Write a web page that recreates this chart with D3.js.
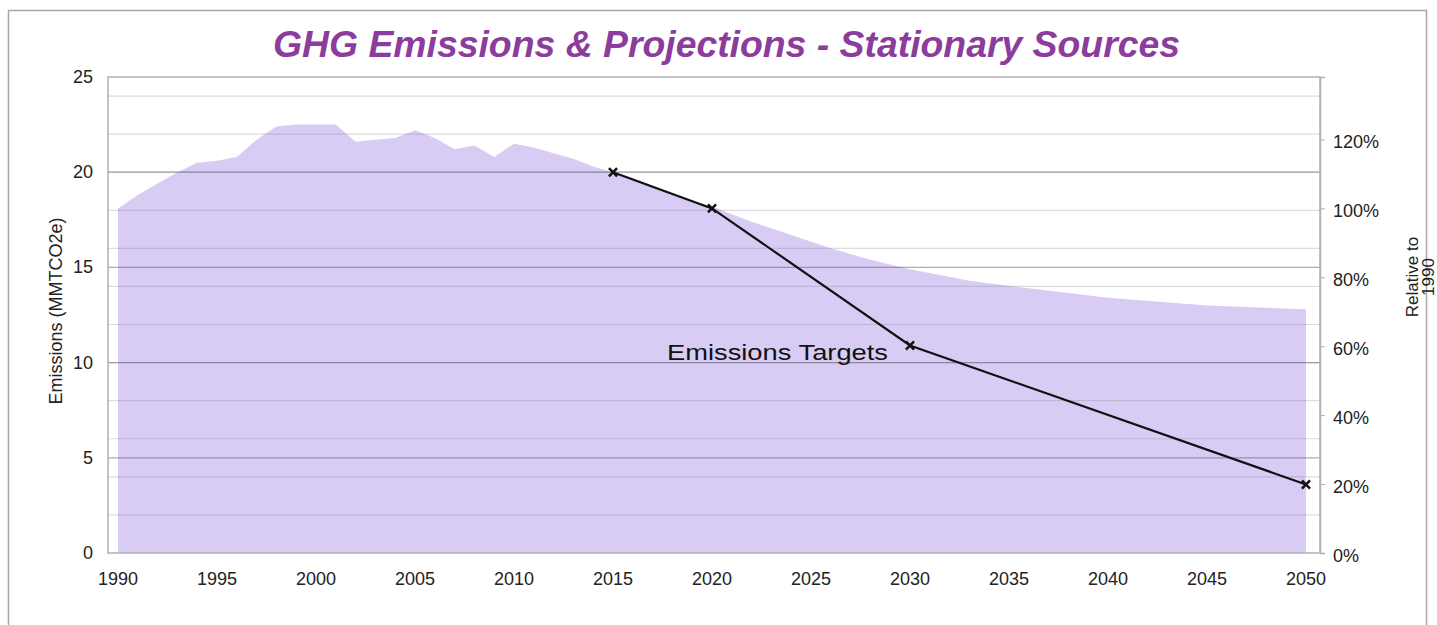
<!DOCTYPE html>
<html>
<head>
<meta charset="utf-8">
<script src="https://cdn.jsdelivr.net/npm/d3@7"></script>
<style>
  body { margin: 0; background: #fff; }
  text { font-family: "Liberation Sans", Arial, sans-serif; }
</style>
</head>
<body>
<div id="chart"></div>
<script>
// emissions, history + projection (MMTCO2e)
const years = [1990, 1991, 1992, 1993, 1994, 1995, 1996, 1997, 1998, 1999,
  2000, 2001, 2002, 2003, 2004, 2005, 2006, 2007, 2008, 2009,
  2010, 2011, 2012, 2013, 2014, 2015, 2016, 2017, 2018, 2019,
  2020, 2022, 2024, 2026, 2028, 2030, 2033, 2036, 2040, 2045, 2050];
const emissions = [18.1, 18.8, 19.4, 20.0, 20.5, 20.6, 20.8, 21.7, 22.4, 22.5,
  22.5, 22.5, 21.6, 21.7, 21.8, 22.2, 21.8, 21.2, 21.4, 20.8,
  21.5, 21.3, 21.0, 20.7, 20.3, 20.0, 19.7, 19.3, 18.9, 18.5,
  18.2, 17.4, 16.7, 16.0, 15.4, 14.9, 14.3, 13.9, 13.4, 13.0, 12.8];

// targets
const targetYears = [2015, 2020, 2030, 2050];
const targetValues = [20.0, 18.1, 10.9, 3.6];

const xTicks = [1990, 1995, 2000, 2005, 2010, 2015, 2020, 2025, 2030, 2035, 2040, 2045, 2050];
const yTicks = [0, 5, 10, 15, 20, 25];
const pctTicks = [0, 0.2, 0.4, 0.6, 0.8, 1.0, 1.2];
const base1990 = 18.1;

const W = 1437, H = 625;
const svg = d3.select("#chart").append("svg")
  .attr("width", W)
  .attr("height", H);

// outer frame
svg.append("rect")
  .attr("x", 8.5).attr("y", 10.5)
  .attr("width", 1418).attr("height", 640)
  .attr("fill", "none")
  .attr("stroke", "#a8a8a8")
  .attr("stroke-width", 1.5);

const pLeft = 108, pRight = 1320, pTop = 77, pBottom = 553;

const x = d3.scaleLinear().domain([1990, 2050]).range([118, 1306]);
const y = d3.scaleLinear().domain([0, 25]).range([pBottom, pTop]);
const yPct = d3.scaleLinear().domain([0, 25 / base1990]).range([pBottom, pTop]);

// area
const data = years.map((yr, i) => ({ yr: yr, v: emissions[i] }));
const area = d3.area()
  .x(d => x(d.yr))
  .y0(y(0))
  .y1(d => y(d.v));

svg.append("path")
  .datum(data)
  .attr("d", area)
  .attr("fill", "#d9ccf4");

// gridlines - minor every 2, major every 5
svg.append("g")
  .selectAll("line")
  .data(d3.range(2, 25, 2))
  .join("line")
  .attr("x1", pLeft).attr("x2", pRight)
  .attr("y1", d => y(d)).attr("y2", d => y(d))
  .attr("stroke", "rgba(110,110,130,0.25)")
  .attr("stroke-width", 1.2);

svg.append("g")
  .selectAll("line")
  .data(yTicks.slice(1, 5))
  .join("line")
  .attr("x1", pLeft).attr("x2", pRight)
  .attr("y1", d => y(d)).attr("y2", d => y(d))
  .attr("stroke", "rgba(90,90,110,0.5)")
  .attr("stroke-width", 1.3);

// plot border
svg.append("rect")
  .attr("x", pLeft).attr("y", pTop)
  .attr("width", pRight - pLeft).attr("height", pBottom - pTop)
  .attr("fill", "none")
  .attr("stroke", "#b0b0b0")
  .attr("stroke-width", 1.5);

// left axis labels
svg.append("g")
  .selectAll("text")
  .data(yTicks)
  .join("text")
  .attr("x", 93)
  .attr("y", d => y(d) + 6)
  .attr("text-anchor", "end")
  .style("font-size", "18px")
  .style("fill", "#222")
  .text(d => d);

// right axis with percentage
const rightAxis = svg.append("g")
  .attr("transform", "translate(" + pRight + ",0)")
  .call(d3.axisRight(yPct).tickValues(pctTicks).tickFormat(d3.format(".0%")).tickSize(5).tickPadding(8));
rightAxis.select(".domain").attr("stroke", "#b0b0b0").attr("stroke-width", 1.5);
rightAxis.selectAll(".tick line").attr("stroke", "#b0b0b0");
rightAxis.selectAll("text")
  .style("font-size", "18px")
  .style("font-family", "'Liberation Sans', Arial, sans-serif")
  .attr("fill", "#222")
  .attr("dy", "0.45em");

// x axis labels
svg.append("g")
  .selectAll("text")
  .data(xTicks)
  .join("text")
  .attr("x", d => x(d))
  .attr("y", 585)
  .attr("text-anchor", "middle")
  .style("font-size", "18px")
  .style("fill", "#222")
  .text(d => d);

// axis titles
svg.append("text")
  .attr("transform", "translate(62,311) rotate(-90)")
  .attr("text-anchor", "middle")
  .style("font-size", "18px")
  .style("fill", "#222")
  .text("Emissions (MMTCO2e)");

svg.append("text")
  .attr("transform", "translate(1418,277) rotate(-90)")
  .attr("text-anchor", "middle")
  .style("font-size", "17px")
  .style("fill", "#222")
  .text("Relative to");

svg.append("text")
  .attr("transform", "translate(1434,277) rotate(-90)")
  .attr("text-anchor", "middle")
  .style("font-size", "17px")
  .style("fill", "#222")
  .text("1990");

// target line
const targets = targetYears.map((yr, i) => ({ yr: yr, v: targetValues[i] }));
svg.append("path")
  .datum(targets)
  .attr("d", d3.line().x(d => x(d.yr)).y(d => y(d.v)))
  .attr("fill", "none")
  .attr("stroke", "#111")
  .attr("stroke-width", 2.2);

svg.append("g")
  .selectAll("path")
  .data(targets)
  .join("path")
  .attr("transform", d => "translate(" + x(d.yr) + "," + y(d.v) + ")")
  .attr("d", d3.symbol(d3.symbolX, 45))
  .attr("stroke", "#111")
  .attr("stroke-width", 2.5);

svg.append("text")
  .attr("x", 667)
  .attr("y", 360)
  .attr("textLength", 221)
  .attr("lengthAdjust", "spacingAndGlyphs")
  .style("font-size", "22px")
  .style("fill", "#111")
  .text("Emissions Targets");

// title
svg.append("text")
  .attr("x", 273)
  .attr("y", 57)
  .attr("textLength", 907)
  .attr("lengthAdjust", "spacingAndGlyphs")
  .style("font-size", "37px")
  .style("font-weight", "bold")
  .style("font-style", "italic")
  .style("fill", "#8b3c9c")
  .text("GHG Emissions & Projections - Stationary Sources");
</script>
</body>
</html>
